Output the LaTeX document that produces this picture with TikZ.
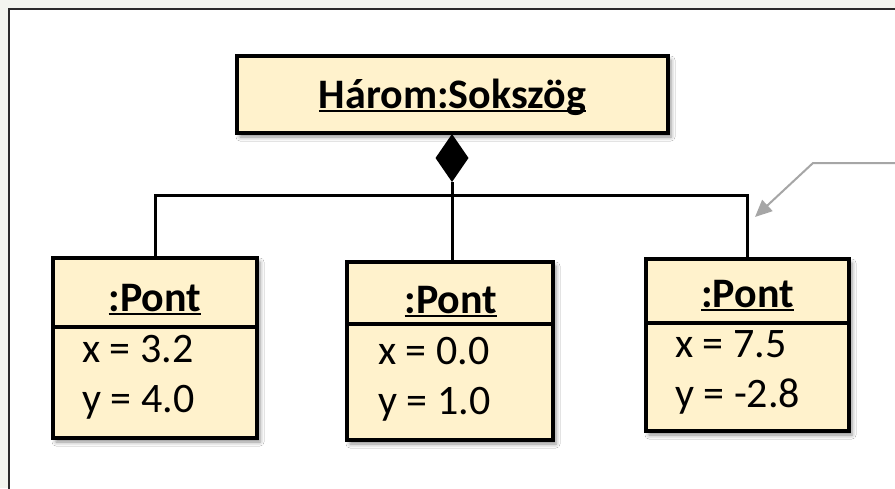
\documentclass[tikz,border=0pt]{standalone}
\usepackage{fontspec}
\setmainfont{Carlito}
\usetikzlibrary{arrows.meta,shadows.blur}
\definecolor{objfill}{HTML}{FFF2CC}
\definecolor{pagebg}{HTML}{F3F5EF}
\definecolor{framecol}{HTML}{2B2B2B}
\definecolor{notegray}{HTML}{A6A6A6}
% underline drawn close to the baseline, crossing descenders
\newsavebox\ulinebox
\newcommand\ulinetext[1]{\sbox\ulinebox{#1}\rlap{\usebox\ulinebox}\rule[-4pt]{\wd\ulinebox}{2pt}}

\begin{document}
\begin{tikzpicture}[x=1pt,y=1pt,
  objbox/.style={draw=black, line width=4pt, fill=objfill, inner sep=0pt, outer sep=0pt,
    blur shadow={shadow xshift=3pt, shadow yshift=-4pt, shadow blur radius=4pt, shadow opacity=45}},
  objtitle/.style={font=\bfseries\fontsize{42}{50}\selectfont, anchor=base, inner sep=0pt},
  objattr/.style={font=\fontsize{42}{50}\selectfont, anchor=base west, inner sep=0pt},
  divider/.style={line width=4pt, draw=black},
  link/.style={line width=3pt, draw=black},
  notelink/.style={draw=notegray, line width=2pt, -{Triangle[length=17pt,width=15pt]}},
]
\useasboundingbox (0,0) rectangle (895,-488);
\clip (0,0) rectangle (895,-488);
\fill[pagebg] (0,0) rectangle (895,-488);
\draw[framecol, line width=2pt, fill=white] (9,-9) rectangle (910,-500);

% composite object
\node[objbox, minimum width=431pt, minimum height=77pt] (whole) at (452.5,-94.5) {};
\node[objtitle] (wholename) at (452.5,-108) {\ulinetext{Három:Sokszög}};

% part objects
\node[objbox, minimum width=204pt, minimum height=180pt] (pa) at (155,-348) {};
\draw[divider] (pa.west |- 0,-327) -- (pa.east |- 0,-327);
\node[objtitle] (pat) at (155,-311) {\ulinetext{:Pont}};
\node[objattr] (pax) at (82,-362) {x = 3.2};
\node[objattr] (pay) at (82,-412) {y = 4.0};

\node[objbox, minimum width=206pt, minimum height=178pt] (pb) at (450,-351) {};
\draw[divider] (pb.west |- 0,-324) -- (pb.east |- 0,-324);
\node[objtitle] (pbt) at (451,-313) {\ulinetext{:Pont}};
\node[objattr] (pbx) at (378,-364) {x = 0.0};
\node[objattr] (pby) at (378,-414) {y = 1.0};

\node[objbox, minimum width=203pt, minimum height=172pt] (pc) at (747.5,-345) {};
\draw[divider] (pc.west |- 0,-323) -- (pc.east |- 0,-323);
\node[objtitle] (pct) at (747.5,-307) {\ulinetext{:Pont}};
\node[objattr] (pcx) at (675,-357) {x = 7.5};
\node[objattr] (pcy) at (675,-407) {y = -2.8};

% composition diamond and the tree of links
\coordinate (diatop) at (452,-134);
\coordinate (diabot) at (452,-182);
\fill[black] (diatop) -- ++(16.5,-24) -- (diabot) -- ++(-16.5,24) -- cycle;
\coordinate (bus) at (452,-195);
\draw[link] (diabot) -- (diabot |- pb.north);
\draw[link] (pa.north) |- (bus) -| (pc.north);

% note pointer
\coordinate (notetail) at (900,-163);
\coordinate (notebend) at (813,-163);
\coordinate (notetip) at (755,-217);
\draw[notelink] (notetail) -- (notebend) -- (notetip);
\end{tikzpicture}
\end{document}
